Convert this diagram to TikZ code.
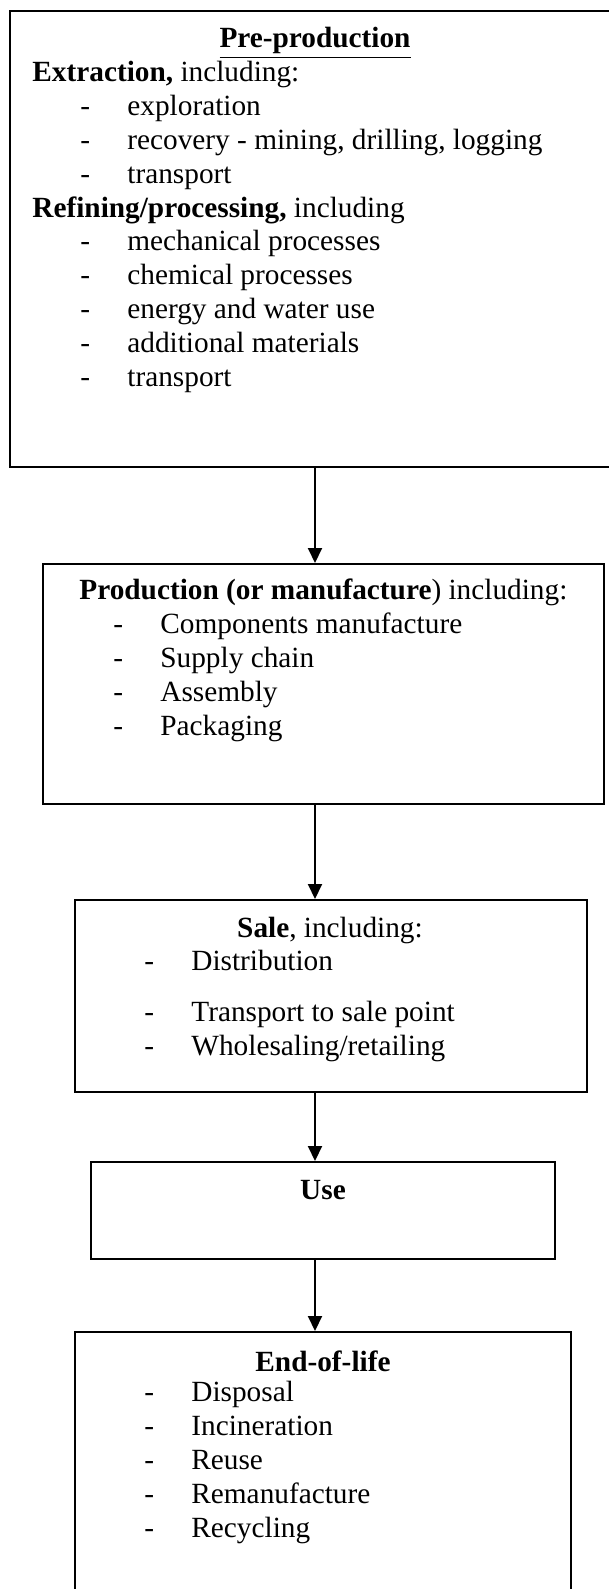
\documentclass[tikz,border=0pt]{standalone}
\usepackage{fontspec}
\setmainfont{Liberation Serif}
\usetikzlibrary{arrows.meta}
\newcommand{\lcfont}{\fontsize{14.65pt}{16.9pt}\selectfont}
\newcommand{\lcitem}[1]{\makebox[23.5pt][l]{-}#1}
\begin{document}
\begin{tikzpicture}[x=0.5pt,y=-0.5pt,
		stage/.style={draw,line width=1pt,rectangle,inner sep=0pt},
		txt/.style={inner sep=0pt,align=left,font=\lcfont},
		flow/.style={line width=1pt,-{Triangle[length=7.5pt,width=7pt]}}]
	\useasboundingbox (0,0) rectangle (609,1589);
	\coordinate (spine) at (315,0);
	\node[stage,minimum width=300.5pt,minimum height=228pt] (pre) at (310.5,239) {};
	\node[stage,minimum width=280.5pt,minimum height=120pt] (prod) at (323.5,684) {};
	\node[stage,minimum width=256pt,minimum height=96pt] (sale) at (331,996) {};
	\node[stage,minimum width=232pt,minimum height=48.5pt] (use) at (323,1210.5) {};
	\node[stage,minimum width=248pt,minimum height=130pt] (eol) at (323,1462) {};
	\node[txt,anchor=base] (preHead) at (315,48) {\textbf{\underline{Pre-production}}};
	\node[txt,anchor=base west] (preList) at (32,386) {\textbf{Extraction,} including:\\
		\hspace*{24pt}\lcitem{exploration}\\
		\hspace*{24pt}\lcitem{recovery - mining, drilling, logging}\\
		\hspace*{24pt}\lcitem{transport}\\
		\textbf{Refining/processing,} including\\
		\hspace*{24pt}\lcitem{mechanical processes}\\
		\hspace*{24pt}\lcitem{chemical processes}\\
		\hspace*{24pt}\lcitem{energy and water use}\\
		\hspace*{24pt}\lcitem{additional materials}\\
		\hspace*{24pt}\lcitem{transport}};
	\node[txt,anchor=base west] (prodList) at (79,735) {\textbf{Production (or manufacture}) including:\\
		\hspace*{17pt}\lcitem{Components manufacture}\\
		\hspace*{17pt}\lcitem{Supply chain}\\
		\hspace*{17pt}\lcitem{Assembly}\\
		\hspace*{17pt}\lcitem{Packaging}};
	\node[txt,anchor=base] (saleHead) at (330,937) {\textbf{Sale}, including:};
	\node[txt,anchor=base west] (saleList) at (144,1055) {\lcitem{Distribution}\\[8.5pt]
		\lcitem{Transport to sale point}\\
		\lcitem{Wholesaling/retailing}};
	\node[txt,anchor=base] (useHead) at (323,1199) {\textbf{Use}};
	\node[txt,anchor=base] (eolHead) at (323,1371) {\textbf{End-of-life}};
	\node[txt,anchor=base west] (eolList) at (144,1537) {\lcitem{Disposal}\\
		\lcitem{Incineration}\\
		\lcitem{Reuse}\\
		\lcitem{Remanufacture}\\
		\lcitem{Recycling}};
	\draw[flow] (pre.south -| spine) -- (prod.north -| spine);
	\draw[flow] (prod.south -| spine) -- (sale.north -| spine);
	\draw[flow] (sale.south -| spine) -- (use.north -| spine);
	\draw[flow] (use.south -| spine) -- (eol.north -| spine);
\end{tikzpicture}
\end{document}
